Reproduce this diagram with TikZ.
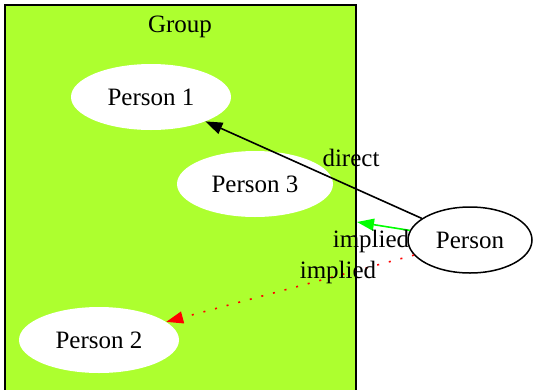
\documentclass[tikz,border=0pt]{standalone}
\usepackage{fontspec}
\setmainfont{Liberation Serif}
\usepackage{xcolor}
\usetikzlibrary{arrows.meta,shapes.geometric}
\definecolor{groupgreen}{HTML}{ADFF2F}
\definecolor{impliedgreen}{HTML}{00FF00}

\tikzset{
  member/.style={ellipse, fill=white, minimum width=160pt, minimum height=66pt, inner sep=0pt, font=\fontsize{25}{28}\selectfont},
  outsider/.style={ellipse, draw=black, line width=1.5pt, fill=white, minimum width=124pt, minimum height=66pt, inner sep=0pt, font=\fontsize{25}{28}\selectfont},
  edgelabel/.style={font=\fontsize{25}{28}\selectfont, inner sep=0pt},
  gvtip/.style={-{Triangle[length=17pt,width=12pt]}, line width=1.6pt}
}

\begin{document}
\begin{tikzpicture}[x=1pt, y=-1pt]
  \useasboundingbox (0,0) rectangle (533,389);
  % cluster
  \draw[fill=groupgreen, line width=1.5pt] (5,5) rectangle (356,393);
  \node[edgelabel] (grouplabel) at (180,27) {Group};
  % people
  \node[member] (p1) at (151,97) {Person 1};
  \node[member, minimum width=156pt] (p3) at (255,184) {Person 3};
  \node[member] (p2) at (99,340) {Person 2};
  \node[outsider] (person) at (470,240) {Person};
  \coordinate (groupedge) at (357,222);
  % edges
  \draw[gvtip] (person) -- (p1);
  \draw[gvtip, impliedgreen] (person) -- (groupedge);
  \draw[gvtip, red, dash pattern=on 2pt off 10pt] (person) -- (p2);
  \node[edgelabel] (directlbl) at (351,158) {direct};
  \node[edgelabel] (impliedlbl) at (371,241) {implied};
  \node[edgelabel] (impliedlbl2) at (338,272) {implied};
\end{tikzpicture}
\end{document}
